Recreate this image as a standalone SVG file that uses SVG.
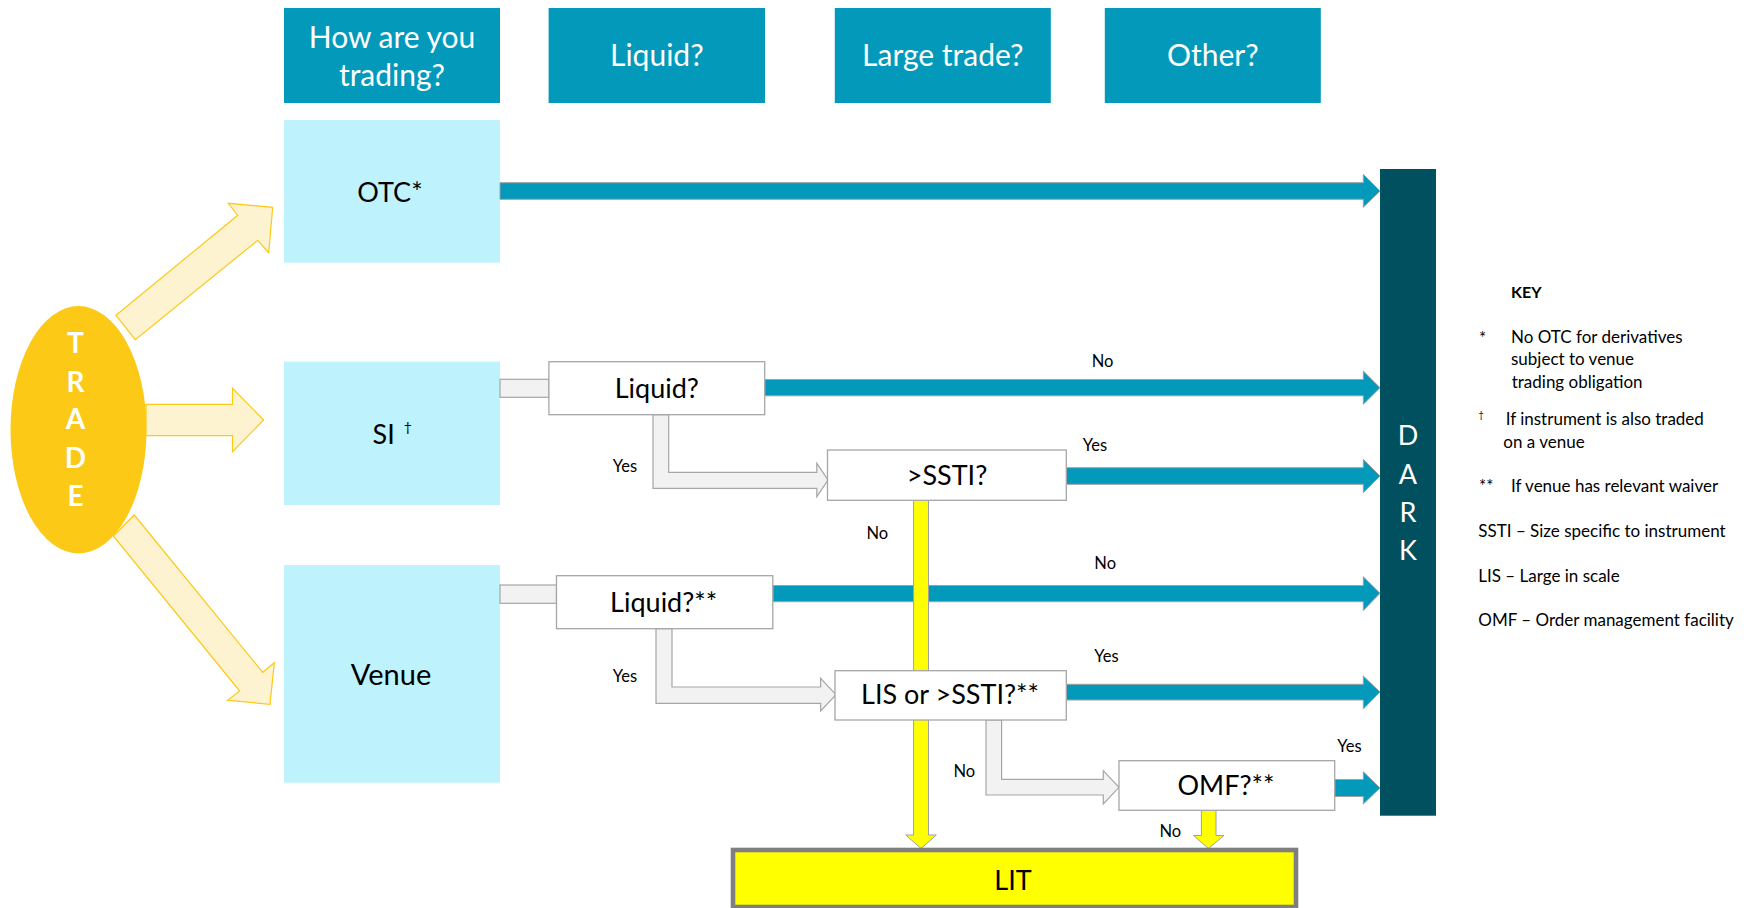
<svg xmlns="http://www.w3.org/2000/svg" width="1752" height="908" viewBox="0 0 1752 908">
<style>
.hdr{fill:#0299BA}
.hdrt{font-family:Lato,"Open Sans",sans-serif;font-size:30px;fill:#FFFFFF;text-anchor:middle}
.lb{fill:#BEF3FE}
.nt{font-family:Lato,"Open Sans",sans-serif;font-size:27px;fill:#000000;text-anchor:middle}
.wb{fill:#FFFFFF;stroke:#A6A6A6;stroke-width:1.3}
.teal{fill:#0299BA;stroke:#A0A0A0;stroke-width:1}
.gray{fill:#F2F2F2;stroke:#A6A6A6;stroke-width:1.2}
.yel{fill:#FFFF00;stroke:#A0A0A0;stroke-width:1}
.ly{fill:#FEF3D0;stroke:#FCC917;stroke-width:1.2}
.lab{font-family:Lato,"Open Sans",sans-serif;font-size:16.5px;fill:#000000}
.key{font-family:Lato,"Open Sans",sans-serif;font-size:17px;fill:#000000}
.big{font-family:Lato,"Open Sans",sans-serif;font-size:27px;fill:#FFFFFF;text-anchor:middle}
</style>

<g id="header-how">
<rect class="hdr" x="284" y="8" width="216" height="95"/>
<text class="hdrt" x="392" y="47.5">How are you</text>
<text class="hdrt" x="392" y="86">trading?</text>
</g>
<g id="header-liquid">
<rect class="hdr" x="548.6" y="8" width="216.4" height="95"/>
<text class="hdrt" x="656.8" y="66">Liquid?</text>
</g>
<g id="header-large">
<rect class="hdr" x="834.8" y="8" width="216" height="95"/>
<text class="hdrt" x="942.8" y="66">Large trade?</text>
</g>
<g id="header-other">
<rect class="hdr" x="1104.8" y="8" width="216" height="95"/>
<text class="hdrt" x="1212.8" y="66">Other?</text>
</g>

<g id="trade">
<ellipse cx="78.5" cy="429.7" rx="68" ry="123.7" fill="#FCC917"/>
<g font-family="Lato,'Open Sans',sans-serif" font-weight="bold" font-size="28" fill="#FFFFFF" text-anchor="middle">
<text x="75.5" y="353.3">T</text>
<text x="75.5" y="391.7">R</text>
<text x="75.5" y="429.3">A</text>
<text x="75.5" y="467.7">D</text>
<text x="75.5" y="506">E</text>
</g>
</g>

<g id="otc">
<rect class="lb" x="284" y="120" width="216" height="142.7"/>
<text class="nt" x="390" y="201.7">OTC*</text>
</g>
<g id="si">
<rect class="lb" x="284" y="361.7" width="216" height="143.3"/>
<text class="nt" x="372.5" y="444" style="text-anchor:start">SI<tspan font-size="14" dx="9" dy="-12">†</tspan></text>
</g>
<g id="venue">
<rect class="lb" x="284" y="565" width="216" height="217.7"/>
<text class="nt" x="391" y="685" font-size="29" style="font-size:29px">Venue</text>
</g>

<g id="dark">
<rect x="1380" y="169" width="56" height="646.7" fill="#00505F"/>
<text class="big" x="1408" y="445">D</text>
<text class="big" x="1408" y="484.3">A</text>
<text class="big" x="1408" y="521.7">R</text>
<text class="big" x="1408" y="560">K</text>
</g>

<g id="connectors">
<!-- trade arrows -->
<polygon class="ly" points="116,315.3 237.7,215.3 228.3,203.3 272.7,207.3 268.7,252.7 257.7,240.3 135.3,339.7"/>
<polygon class="ly" points="146,404.3 232.5,404.3 232.5,388.3 263.6,420 232.5,451.7 232.5,435.7 146,435.7"/>
<polygon class="ly" points="134.3,515 262.7,672.3 274.3,662.7 270,704.3 227.7,700.3 239.7,691 113.3,536"/>
<!-- gray connectors -->
<rect class="gray" x="500" y="379.3" width="49" height="18"/>
<rect class="gray" x="500" y="585" width="56.5" height="18.3"/>
<polygon class="gray" points="653,414.7 668.7,414.7 668.7,472.3 816.8,472.3 816.8,463.3 828,480 816.8,496.7 816.8,488.3 653,488.3"/>
<polygon class="gray" points="656,628.7 672,628.7 672,687 820.6,687 820.6,678.3 836,694.7 820.6,711 820.6,703.3 656,703.3"/>
<polygon class="gray" points="986,720 1001.6,720 1001.6,779.3 1103.3,779.3 1103.3,770.7 1119,787.3 1103.3,804 1103.3,795 986,795"/>
<!-- teal arrows to DARK -->
<polygon class="teal" points="500,182.7 1363.3,182.7 1363.3,174.3 1380,191 1363.3,207.3 1363.3,199.3 500,199.3"/>
<polygon class="teal" points="764.7,379.5 1363.3,379.5 1363.3,371 1380,387.7 1363.3,404.3 1363.3,395.8 764.7,395.8"/>
<polygon class="teal" points="1066.3,467.7 1363.3,467.7 1363.3,459.3 1380,476 1363.3,492.7 1363.3,484.3 1066.3,484.3"/>
<polygon class="teal" points="772.8,585.5 1363.3,585.5 1363.3,576.7 1380,593.3 1363.3,610.5 1363.3,601.7 772.8,601.7"/>
<polygon class="teal" points="1066.3,684.3 1363.3,684.3 1363.3,676 1380,692 1363.3,709 1363.3,700 1066.3,700"/>
<polygon class="teal" points="1334.7,779.5 1363.3,779.5 1363.3,771.7 1380,788 1363.3,804 1363.3,796.5 1334.7,796.5"/>
<!-- yellow arrows to LIT -->
<polygon class="yel" points="913.6,500.3 928.5,500.3 928.5,835 936.3,835 921,848.5 905.8,835 913.6,835"/>
<polygon class="yel" points="1201.4,810.3 1216,810.3 1216,835.5 1224,835.5 1208.5,848.5 1193.5,835.5 1201.4,835.5"/>
<!-- labels -->
<text class="lab" x="1091.7" y="367.3">No</text>
<text class="lab" x="612.8" y="472.3">Yes</text>
<text class="lab" x="1082.7" y="451">Yes</text>
<text class="lab" x="866.5" y="539">No</text>
<text class="lab" x="1094.3" y="569.3">No</text>
<text class="lab" x="612.8" y="681.7">Yes</text>
<text class="lab" x="1094.3" y="661.7">Yes</text>
<text class="lab" x="953.4" y="776.7">No</text>
<text class="lab" x="1337.3" y="751.7">Yes</text>
<text class="lab" x="1159.5" y="836.5">No</text>
</g>

<g id="q-liquid-si">
<rect class="wb" x="548.9" y="361.7" width="215.8" height="53"/>
<text class="nt" x="656.8" y="398.3">Liquid?</text>
</g>
<g id="q-ssti">
<rect class="wb" x="827.5" y="450" width="238.8" height="50.3"/>
<text class="nt" x="947" y="485">&gt;SSTI?</text>
</g>
<g id="q-liquid-venue">
<rect class="wb" x="556.5" y="575.7" width="216.3" height="53"/>
<text class="nt" x="663.7" y="611.7">Liquid?**</text>
</g>
<g id="q-lis">
<rect class="wb" x="835" y="670.7" width="231.3" height="49.3"/>
<text class="nt" x="950" y="704.3">LIS or &gt;SSTI?**</text>
</g>
<g id="q-omf">
<rect class="wb" x="1119" y="760.7" width="215.7" height="49.6"/>
<text class="nt" x="1226" y="795">OMF?**</text>
</g>

<g id="lit">
<rect x="733" y="850" width="563" height="57" fill="#FFFF00" stroke="#7F7F7F" stroke-width="4.6"/>
<text class="nt" x="1013" y="890">LIT</text>
</g>

<g id="key">
<text x="1511" y="297.7" font-family="Lato,'Open Sans',sans-serif" font-weight="bold" font-size="16" fill="#000000">KEY</text>
<text class="key" x="1479" y="344">*</text>
<text class="key" x="1511" y="342.7">No OTC for derivatives</text>
<text class="key" x="1511" y="365.3">subject to venue</text>
<text class="key" x="1511.7" y="388.3">trading obligation</text>
<text class="key" x="1478.5" y="418" style="font-size:9px">†</text>
<text class="key" x="1505.7" y="425">If instrument is also traded</text>
<text class="key" x="1503.3" y="447.7">on a venue</text>
<text class="key" x="1479" y="492">**</text>
<text class="key" x="1511" y="491.7">If venue has relevant waiver</text>
<text class="key" x="1478.3" y="536.7">SSTI – Size specific to instrument</text>
<text class="key" x="1478.3" y="581.7">LIS – Large in scale</text>
<text class="key" x="1478.3" y="626">OMF – Order management facility</text>
</g>
</svg>
